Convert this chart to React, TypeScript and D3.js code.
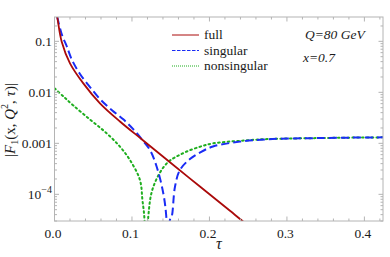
import React from 'react';
import * as d3 from 'd3';

// ---- data ----
const fullTau = [0.0, 0.0036, 0.0093, 0.0200, 0.0372, 0.0587, 0.0845, 0.1129, 0.149, 0.1877, 0.2265, 0.2415, 0.2655];
const fullVal = [0.59, 0.296, 0.0984, 0.0371, 0.0150, 0.00609, 0.00268, 0.00119, 0.000427, 0.000142, 0.0000475, 0.000031, 0.000016];

const singTau = [0.0, 0.0036, 0.0097, 0.0157, 0.0226, 0.0329, 0.0458, 0.0587, 0.0742, 0.0888, 0.1013, 0.1129, 0.1232, 0.1319, 0.1404, 0.1445, 0.1468, 0.1493, 0.1512, 0.1555, 0.1619, 0.1748, 0.1877, 0.2045, 0.2394, 0.2738, 0.3426, 0.424, 0.44];
const singVal = [0.515, 0.296, 0.133, 0.081, 0.0430, 0.0229, 0.0127, 0.00739, 0.00445, 0.00295, 0.00192, 0.00119, 0.00074, 0.000348, 0.000105, 0.000033, 0.000001, 0.000033, 0.0000364, 0.000141, 0.00030, 0.000493, 0.00066, 0.000867, 0.00108, 0.00120, 0.00127, 0.00131, 0.00131];

const nonsTau = [0.0, 0.0123, 0.0243, 0.0458, 0.0674, 0.0845, 0.0974, 0.1103, 0.1135, 0.1161, 0.1182, 0.121, 0.1275, 0.145, 0.166, 0.188, 0.205, 0.239, 0.274, 0.3426, 0.424, 0.44];
const nonsVal = [0.0120, 0.00809, 0.00552, 0.00293, 0.00157, 0.000859, 0.000471, 0.000191, 0.000077, 0.000033, 0.000001, 0.000036, 0.00014, 0.000406, 0.00064, 0.00086, 0.0010, 0.00112, 0.00121, 0.00127, 0.00131, 0.00131];

const xMajor = [0, 0.1, 0.2, 0.3, 0.4];
const xMajorLabels = ['0.0', '0.1', '0.2', '0.3', '0.4'];
const yMajor = [0.1, 0.01, 0.001, 0.0001];
const yMajorLabels = ['0.1', '0.01', '0.001', '10^-4'];

const seriesNames = ['full', 'singular', 'nonsingular'];
const seriesColors = ['#aa0a0a', '#1a2cf5', '#1fae1f'];

export default function App() {
  const W = 390, H = 257;
  const L = 54.5, R = 383, T = 17, B = 221;
  const x = d3.scaleLinear().domain([0, 0.424]).range([L, R]);
  const y = d3.scaleLog().domain([3e-5, 0.3]).range([B, T]);

  const line = d3.line<[number, number]>()
    .x(d => x(d[0]))
    .y(d => y(d[1]))
    .curve(d3.curveCatmullRom.alpha(0.5));

  const mk = (ts: number[], vs: number[]) => line(ts.map((t, i) => [t, vs[i]] as [number, number])) || '';

  const xMinor: number[] = [];
  for (let k = 1; k <= 21; k++) { const v = +(k * 0.02).toFixed(3); if (Math.abs(v * 10 - Math.round(v * 10)) > 1e-6) xMinor.push(v); }
  const yMinor: number[] = [];
  for (let e = -5; e <= -1; e++) for (let m = 2; m <= 9; m++) { const v = m * Math.pow(10, e); if (v >= 3e-5 && v <= 0.3) yMinor.push(v); }

  const frame = '#b4b4b4';
  const font = 'Liberation Serif';
  const maj = 4.5, mnr = 2.5;
  const tc = '#1a1a1a';

  return (
    <svg width={W} height={H} style={{ position: 'absolute', left: 0, top: 0 }}>
      <defs>
        <clipPath id="pc"><rect x={L} y={T} width={R - L} height={B - T} /></clipPath>
      </defs>
      <rect x={0} y={0} width={W} height={H} fill="#fff" />
      {/* curves */}
      <g clipPath="url(#pc)" fill="none">
        <path d={mk(nonsTau, nonsVal)} stroke={seriesColors[2]} strokeWidth={2} strokeDasharray="1.6,3.2" strokeLinecap="round" />
        <path d={mk(singTau, singVal)} stroke={seriesColors[1]} strokeWidth={2} strokeDasharray="8,4" />
        <path d={mk(fullTau, fullVal)} stroke={seriesColors[0]} strokeWidth={1.8} />
      </g>
      {/* frame */}
      <rect x={L} y={T} width={R - L} height={B - T} fill="none" stroke={frame} strokeWidth={1} />
      {/* x ticks */}
      {xMajor.map(v => (
        <g key={'xm' + v}>
          <line x1={x(v)} x2={x(v)} y1={B} y2={B - maj} stroke={frame} />
          <line x1={x(v)} x2={x(v)} y1={T} y2={T + maj} stroke={frame} />
        </g>
      ))}
      {xMinor.map(v => (
        <g key={'xn' + v}>
          <line x1={x(v)} x2={x(v)} y1={B} y2={B - mnr} stroke={frame} />
          <line x1={x(v)} x2={x(v)} y1={T} y2={T + mnr} stroke={frame} />
        </g>
      ))}
      {xMajor.map((v, i) => (
        <text key={'xl' + v} x={x(v) - 1.5} y={238} fontSize={13.5} textAnchor="middle" fill={tc} fontFamily={font}>{xMajorLabels[i]}</text>
      ))}
      {/* y ticks */}
      {yMajor.map(v => (
        <g key={'ym' + v}>
          <line x1={L} x2={L + maj} y1={y(v)} y2={y(v)} stroke={frame} />
          <line x1={R} x2={R - maj} y1={y(v)} y2={y(v)} stroke={frame} />
        </g>
      ))}
      {yMinor.map(v => (
        <g key={'yn' + v}>
          <line x1={L} x2={L + mnr} y1={y(v)} y2={y(v)} stroke={frame} />
          <line x1={R} x2={R - mnr} y1={y(v)} y2={y(v)} stroke={frame} />
        </g>
      ))}
      {yMajor.map((v, i) => {
        const lab = yMajorLabels[i];
        if (lab.startsWith('10^')) {
          return (
            <text key={'yl' + v} x={52} y={y(v) + 4.5} fontSize={13.5} textAnchor="end" fill={tc} fontFamily={font}>
              10<tspan dy={-6} fontSize={10}>{'\u2212' + lab.slice(4)}</tspan>
            </text>
          );
        }
        return <text key={'yl' + v} x={52} y={y(v) + 4.5} fontSize={13.5} textAnchor="end" fill={tc} fontFamily={font}>{lab}</text>;
      })}
      {/* axis labels */}
      <text x={(L + R) / 2} y={249} fontSize={16} fontStyle="italic" textAnchor="middle" fill={tc} fontFamily={font}>τ</text>
      <text transform="translate(15,120) rotate(-90)" fontSize={15} textAnchor="middle" fill={tc} fontFamily={font}>
        |<tspan fontStyle="italic">F</tspan><tspan fontSize={10} dy={3}>1</tspan><tspan dy={-3}>(x, </tspan><tspan fontStyle="italic">Q</tspan><tspan fontSize={10} dy={-7}>2</tspan><tspan dy={7}>, </tspan><tspan fontStyle="italic">τ</tspan>)|
      </text>
      {/* legend */}
      {seriesNames.map((n, i) => {
        const ly = 35 + i * 15.5;
        return (
          <g key={n}>
            <line x1={172} x2={199} y1={ly} y2={ly} stroke={seriesColors[i]} strokeWidth={1}
              strokeDasharray={i === 1 ? '3.5,1.5' : i === 2 ? '1,1' : undefined} />
            <text x={204} y={ly + 4} fontSize={13.5} fill={tc} fontFamily={font}>{n}</text>
          </g>
        );
      })}
      <text x={305} y={39} fontSize={13.5} fontStyle="italic" fill={tc} fontFamily={font}>Q=80 GeV</text>
      <text x={303} y={62} fontSize={13.5} fontStyle="italic" fill={tc} fontFamily={font}>x=0.7</text>
    </svg>
  );
}
